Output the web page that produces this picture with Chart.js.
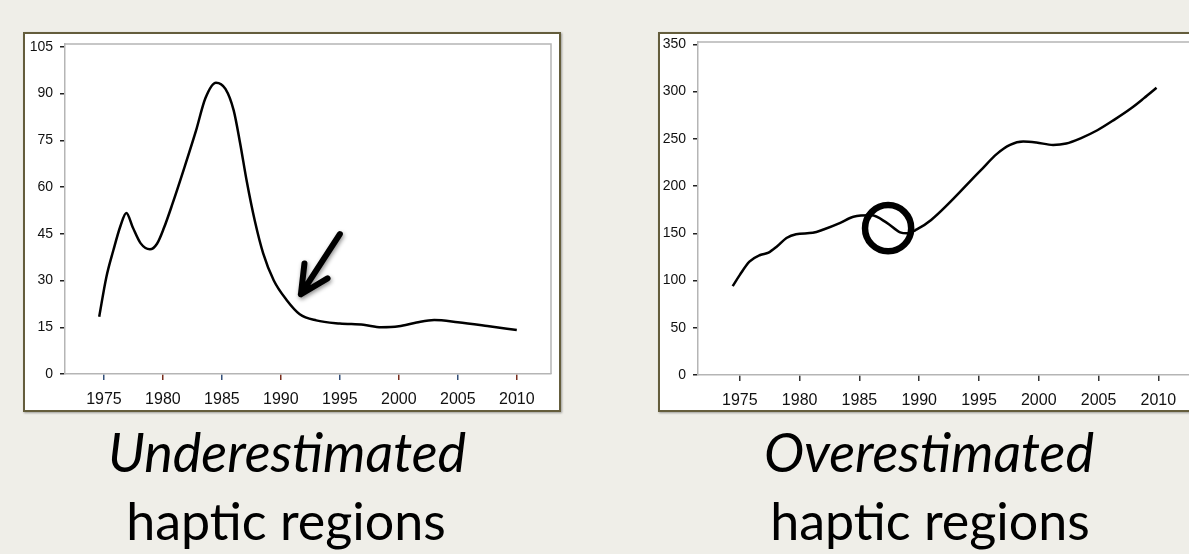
<!DOCTYPE html>
<html>
<head>
<meta charset="utf-8">
<script src="https://cdn.jsdelivr.net/npm/chart.js@4.4.1/dist/chart.umd.min.js"></script>
<style>
    body {
        margin: 0;
        width: 1189px;
        height: 554px;
        overflow: hidden;
        background: #efeee8;
        position: relative;
    }
    .panel {
        position: absolute;
        top: 32px;
        height: 376px;
        border: 2px solid #645d3c;
        background: #fff;
        box-shadow: 1px 1px 2px rgba(0, 0, 0, 0.35);
    }
    .panel canvas { display: block; }
    #left-panel { left: 23px; width: 534px; }
    #right-panel { left: 658px; width: 540px; }
    .caption {
        position: absolute;
        width: 500px;
        text-align: center;
        font-family: Lato, "Open Sans", sans-serif;
        line-height: 1.2;
        color: #000;
        white-space: nowrap;
    }
    .caption.first { font-size: 54px; font-style: italic; top: 420px; }
    .caption.second { font-size: 52px; top: 489px; }
</style>
</head>
<body>
<div class="panel" id="left-panel"><canvas id="left-chart" width="534" height="376"></canvas></div>
<div class="panel" id="right-panel"><canvas id="right-chart" width="540" height="376"></canvas></div>

<div class="caption first" style="left:37px;">Underestimated</div>
<div class="caption second" style="left:36px;">haptic regions</div>
<div class="caption first" style="left:679px;">Overestimated</div>
<div class="caption second" style="left:680px;">haptic regions</div>

<script>
const xTickYears = [1975, 1980, 1985, 1990, 1995, 2000, 2005, 2010];
const leftYTicks = [0, 15, 30, 45, 60, 75, 90, 105];
const rightYTicks = [0, 50, 100, 150, 200, 250, 300, 350];

// left: underestimated
const leftYears = [1974.6, 1975.2, 1975.8, 1976.4, 1976.9, 1977.45, 1978.1, 1978.9, 1979.5, 1980.1,
    1980.8, 1981.8, 1982.8, 1983.6, 1984.5, 1985.3, 1986, 1986.55, 1987.1, 1987.8, 1988.5, 1989.4,
    1990.5, 1991.6, 1993, 1995, 1997, 1998.5, 2000, 2001.5, 2003, 2005, 2007.5, 2010];
const leftValues = [18.4, 31, 39.7, 47.5, 51.7, 47, 42, 40, 41.8, 47,
    54.5, 66, 78, 88.5, 93.5, 91.5, 84.6, 74, 62, 49, 38.7, 30,
    23.7, 19.2, 17.2, 16.2, 15.8, 15, 15.3, 16.5, 17.3, 16.6, 15.4, 14.1];

// right: overestimated
const rightYears = [1974.4, 1975, 1975.8, 1976.7, 1977.4, 1978.1, 1978.9, 1979.7, 1981.1, 1982,
    1983.4, 1984.5, 1986, 1987.3, 1988.4, 1989, 1989.8, 1991, 1995.1, 1996.5,
    1997.6, 1998.7, 1999.8, 2001.2, 2002.3, 2003.5, 2004.9, 2006.3, 2007.7, 2008.8, 2009.85];
const rightValues = [94, 106, 120, 127, 129.5, 136, 145, 149, 150.5, 154,
    161, 167.5, 169, 161, 151, 150, 154, 164, 216, 234,
    243.5, 247, 246, 243.5, 245, 250.5, 259, 270, 282, 293, 304];

// plot frame (top and right edges)
const framePlugin = {
    id: "frame",
    beforeDatasetsDraw(chart) {
        const { ctx, chartArea } = chart;
        ctx.save();
        ctx.strokeStyle = "#b5b5b5";
        ctx.lineWidth = 1.5;
        ctx.beginPath();
        ctx.moveTo(chartArea.left, chartArea.top);
        ctx.lineTo(chartArea.right, chartArea.top);
        ctx.lineTo(chartArea.right, chartArea.bottom);
        ctx.stroke();
        ctx.restore();
    }
};

// hand-drawn arrow / circle, placed in data units
const marksPlugin = {
    id: "marks",
    afterDatasetsDraw(chart, args, opts) {
        const { ctx, scales } = chart;
        const x = scales.x, y = scales.y;
        ctx.save();
        ctx.strokeStyle = "#000";
        ctx.lineCap = "round";
        ctx.lineJoin = "round";

        if (opts.arrow) {
            const tx = x.getPixelForValue(opts.arrow.tail[0]);
            const ty = y.getPixelForValue(opts.arrow.tail[1]);
            const hx = x.getPixelForValue(opts.arrow.tip[0]);
            const hy = y.getPixelForValue(opts.arrow.tip[1]);
            const back = Math.atan2(ty - hy, tx - hx);
            const len = 31;
            ctx.shadowColor = "rgba(0,0,0,0.45)";
            ctx.shadowBlur = 4;
            ctx.shadowOffsetX = 1;
            ctx.shadowOffsetY = 2;
            ctx.lineWidth = 6;
            ctx.beginPath();
            ctx.moveTo(tx, ty);
            ctx.lineTo(hx, hy);
            ctx.moveTo(hx + len * Math.cos(back - 0.46), hy + len * Math.sin(back - 0.46));
            ctx.lineTo(hx, hy);
            ctx.lineTo(hx + len * Math.cos(back + 0.46), hy + len * Math.sin(back + 0.46));
            ctx.stroke();
        }

        if (opts.circle) {
            const cx = x.getPixelForValue(opts.circle.center[0]);
            const cy = y.getPixelForValue(opts.circle.center[1]);
            const r = x.getPixelForValue(opts.circle.center[0] + opts.circle.radius) - cx;
            ctx.lineWidth = 6.5;
            ctx.beginPath();
            ctx.arc(cx, cy, r, 0, Math.PI * 2);
            ctx.stroke();
        }
        ctx.restore();
    }
};

function buildChart(canvasId, cfg) {
    const points = cfg.years.map((yr, i) => ({ x: yr, y: cfg.values[i] }));
    return new Chart(document.getElementById(canvasId), {
        type: "line",
        data: {
            datasets: [{
                data: points,
                borderColor: "#000",
                borderWidth: 2.5,
                pointRadius: 0,
                fill: false,
                cubicInterpolationMode: "monotone"
            }]
        },
        options: {
            responsive: false,
            animation: false,
            events: [],
            layout: { padding: cfg.padding },
            plugins: {
                legend: { display: false },
                tooltip: { enabled: false },
                marks: cfg.marks
            },
            scales: {
                x: {
                    type: "linear",
                    min: cfg.xMin,
                    max: cfg.xMax,
                    afterBuildTicks: (s) => { s.ticks = xTickYears.map(v => ({ value: v })); },
                    afterFit: (s) => {
                        s.height = cfg.xHeight;
                        s.paddingLeft = 0;
                        s.paddingRight = 0;
                    },
                    ticks: {
                        autoSkip: false,
                        maxRotation: 0,
                        padding: 10,
                        color: "#111",
                        font: { family: "'Liberation Sans Narrow', 'Liberation Sans', Arial, sans-serif", size: 16 },
                        callback: (v) => String(v)
                    },
                    grid: {
                        drawOnChartArea: false,
                        drawTicks: true,
                        tickLength: 6,
                        lineWidth: 1.5,
                        color: (c) => cfg.xTickColors[c.index % cfg.xTickColors.length]
                    },
                    border: { display: true, color: "#b5b5b5", width: 1.5 }
                },
                y: {
                    min: 0,
                    max: cfg.yMax,
                    afterBuildTicks: (s) => { s.ticks = cfg.yTicks.map(v => ({ value: v })); },
                    afterFit: (s) => {
                        s.width = cfg.yWidth;
                        s.paddingTop = 0;
                        s.paddingBottom = 0;
                    },
                    ticks: {
                        padding: 7,
                        color: "#111",
                        font: { family: "'Liberation Sans', Arial, sans-serif", size: 14 },
                        callback: (v) => String(v)
                    },
                    grid: {
                        drawOnChartArea: false,
                        drawTicks: true,
                        tickLength: 5,
                        lineWidth: 1.5,
                        color: "#222"
                    },
                    border: { display: true, color: "#b5b5b5", width: 1.5 }
                }
            }
        },
        plugins: [framePlugin, marksPlugin]
    });
}

buildChart("left-chart", {
    years: leftYears,
    values: leftValues,
    yTicks: leftYTicks,
    xMin: 1971.7,
    xMax: 2012.9,
    yMax: 105.9,
    yWidth: 40,
    xHeight: 36,
    padding: { top: 10, right: 8, left: 0, bottom: 0 },
    xTickColors: ["#34507a", "#7a2e1e"],
    marks: { arrow: { tail: [1995, 44.9], tip: [1991.7, 25.6] } }
});

buildChart("right-chart", {
    years: rightYears,
    values: rightValues,
    yTicks: rightYTicks,
    xMin: 1971.5,
    xMax: 2012.9,
    yMax: 352.4,
    yWidth: 38,
    xHeight: 35,
    padding: { top: 8, right: 7, left: 0, bottom: 0 },
    xTickColors: ["#333"],
    marks: { circle: { center: [1987.4, 155.4], radius: 1.93 } }
});
</script>
</body>
</html>
